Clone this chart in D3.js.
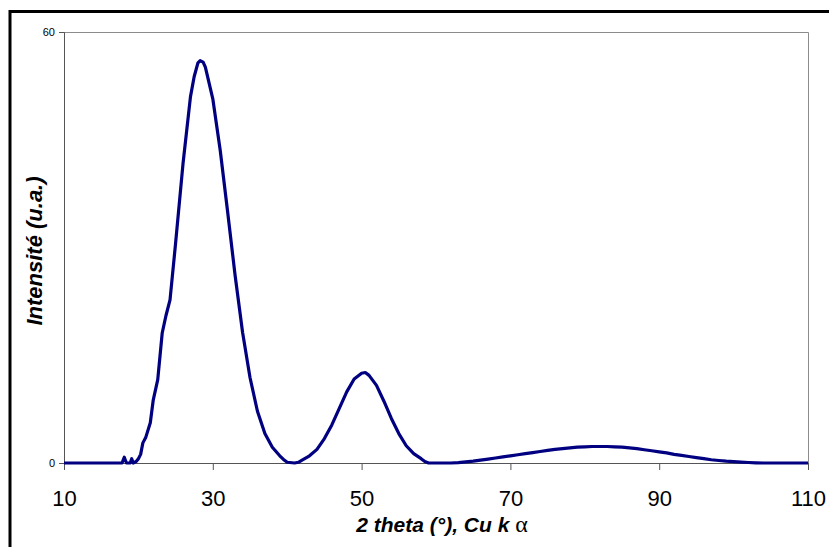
<!DOCTYPE html>
<html><head><meta charset="utf-8">
<script src="https://cdn.jsdelivr.net/npm/d3@7"></script>
<style>html,body{margin:0;padding:0;background:#fff;overflow:hidden}</style>
</head><body>
<svg id="chart" width="829" height="547"></svg>
<script>
// 2 theta (deg)
const twoTheta = [10,12,14,16,17.8,18.1,18.4,18.9,19.1,19.3,19.7,20.0,20.3,20.6,21.0,21.6,22.0,22.6,23.2,23.7,24.25,25,26,27,27.5,28,28.3,28.7,29,30,31,32,33,34,35,36,37,38,39,39.5,40,41,41.5,42,43,44,45,46,47,48,49,50,50.5,51,52,53,54,55,56,57,58,58.5,59,60,62,63,64,65,66,67,68,69,70,71,72,73,74,75,76,77,78,79,80,81,82,83,84,85,86,87,88,89,90,91,92,93,94,95,96,97,98,99,100,101,102,103,104,106,108,110];
// intensity (u.a.)
const intensity = [0,0,0,0,0,0.8,0,0,0.6,0,0.2,0.6,1.2,2.8,3.6,5.6,8.8,11.6,18.1,20.5,22.7,30.6,41.7,51,53.8,55.7,56,55.8,55.1,50.7,43.5,34.9,26.1,18.2,11.9,7.2,4.1,2.2,1.0,0.5,0.1,0,0.1,0.4,1.0,1.9,3.4,5.3,7.6,9.9,11.7,12.5,12.6,12.2,10.8,8.6,6.2,4.1,2.4,1.3,0.6,0.2,0,0,0,0.05,0.15,0.25,0.4,0.55,0.7,0.85,1.0,1.15,1.3,1.45,1.6,1.75,1.9,2.0,2.1,2.2,2.25,2.3,2.3,2.3,2.25,2.2,2.1,2.0,1.85,1.7,1.55,1.4,1.2,1.05,0.9,0.75,0.6,0.45,0.35,0.25,0.18,0.12,0.07,0.03,0,0,0,0];
const xTicks = [10,30,50,70,90,110];
const yTicks = [0,60];
const xTitle = "2 theta (°), Cu k ";
const xTitleGreek = "α";
const yTitle = "Intensité (u.a.)";

const svg = d3.select("#chart");
const L = 64, R = 808, T = 32, B = 463;
const x = d3.scaleLinear().domain([10,110]).range([L,R]);
const y = d3.scaleLinear().domain([0,60]).range([B,T]);

// outer frame
svg.append("rect").attr("x",10).attr("y",11.5).attr("width",900).attr("height",700)
  .attr("fill","none").attr("stroke","#000").attr("stroke-width",3);

// plot frame (top/right)
svg.append("path").attr("d",`M${L},${T+0.5}H${R+0.5}V${B}`).attr("fill","none").attr("stroke","#8c8c8c").attr("stroke-width",1);

// axes
const xAxis = d3.axisBottom(x).tickValues(xTicks).tickSize(7).tickPadding(20).tickFormat(d3.format("d"));
const gx = svg.append("g").attr("transform",`translate(0,${B})`).call(xAxis);
gx.select(".domain").attr("stroke","#555");
gx.selectAll(".tick line").attr("stroke","#555");
gx.selectAll("text").attr("font-family","'Liberation Sans', Arial, sans-serif").attr("font-size",22).attr("fill","#000");

const yAxis = d3.axisLeft(y).tickValues(yTicks).tickSize(5).tickPadding(4);
const gy = svg.append("g").attr("transform",`translate(${L},0)`).call(yAxis);
gy.select(".domain").attr("stroke","#555");
gy.selectAll(".tick line").attr("stroke","#555");
gy.selectAll("text").attr("font-family","'Liberation Sans', Arial, sans-serif").attr("font-size",11).attr("fill","#000");

// line
const line = d3.line().x((d,i)=>x(twoTheta[i])).y(d=>y(d));
svg.append("path").datum(intensity).attr("d",line).attr("fill","none")
  .attr("stroke","#000080").attr("stroke-width",3.2).attr("stroke-linejoin","round");

// titles
const xt = svg.append("text").attr("x",442).attr("y",532).attr("text-anchor","middle")
  .attr("font-family","'Liberation Sans', Arial, sans-serif").attr("font-size",21)
  .attr("font-weight","bold").attr("font-style","italic").attr("fill","#000");
xt.append("tspan").text(xTitle);
xt.append("tspan").attr("font-family","'Liberation Serif', serif").attr("font-weight","normal").attr("font-style","normal").attr("font-size",24).text(xTitleGreek);

svg.append("text").attr("transform","translate(42,251) rotate(-90)").attr("text-anchor","middle")
  .attr("font-family","'Liberation Sans', Arial, sans-serif").attr("font-size",22)
  .attr("font-weight","bold").attr("font-style","italic").attr("fill","#000").text(yTitle);
</script>
</body></html>
